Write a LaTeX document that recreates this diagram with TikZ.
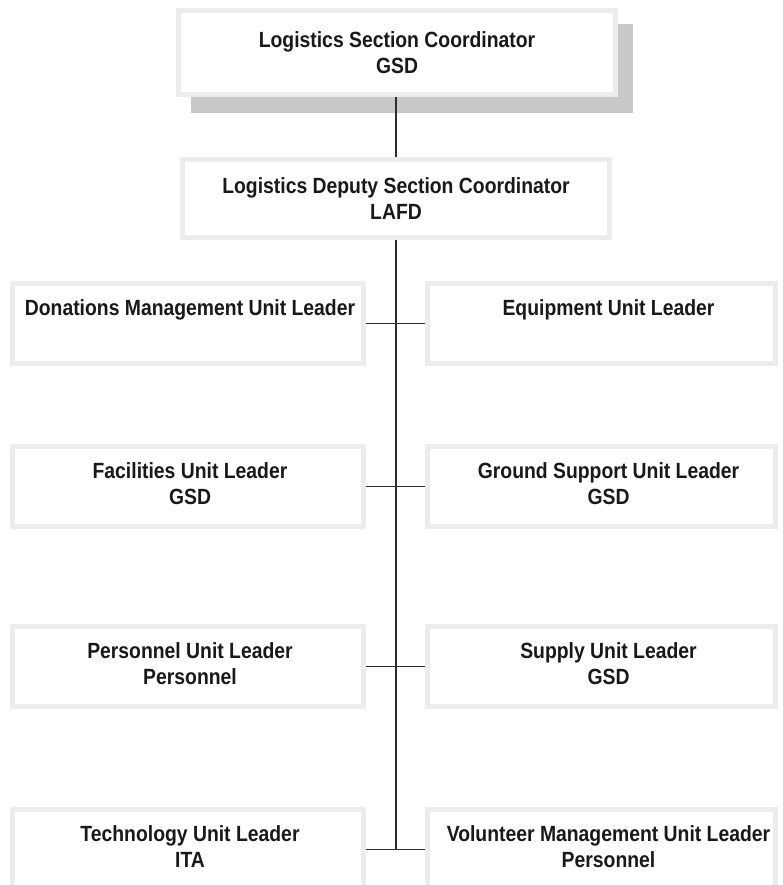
\documentclass[tikz,border=0pt]{standalone}
\usepackage{fontspec}
\setmainfont{Liberation Sans}[FakeStretch=0.88]
\definecolor{boxline}{RGB}{236,236,236}
\definecolor{shadowc}{RGB}{200,200,200}
\definecolor{conn}{RGB}{45,45,45}
\begin{document}
\begin{tikzpicture}[x=1pt,y=-1pt,
  box/.style={draw=boxline, line width=5pt, fill=white, inner sep=0pt},
  lbox/.style={box, minimum width=351pt, minimum height=80pt},
  rbox/.style={box, minimum width=348pt, minimum height=80pt},
  txt/.style={font=\bfseries\fontsize{22}{26}\selectfont, align=center, inner sep=0pt, text=black!90},
  ltxt/.style={txt, anchor=north, yshift=-18pt, xshift=2pt},
  rtxt/.style={txt, anchor=north, yshift=-18pt, xshift=7pt},
  conn/.style={draw=conn, line width=1.5pt}]
\useasboundingbox (0,0) rectangle (783,885);
\clip (0,0) rectangle (783,885);
\fill[white] (0,0) rectangle (783,885);
% top box with shadow
\fill[shadowc] (191,24) rectangle (633,113);
\node[box, minimum width=437pt, minimum height=84pt] (top) at (397,52.5) {};
\node[txt] (toptxt) at (top.center) {Logistics Section Coordinator\\GSD};
% deputy
\node[box, minimum width=427pt, minimum height=78pt] (dep) at (396,198.5) {};
\node[txt] (deptxt) at (dep.center) {Logistics Deputy Section Coordinator\\LAFD};
% rows
\node[lbox] (L1) at (188,323.5) {};
\node[rbox] (R1) at (601.5,323.5) {};
\node[lbox] (L2) at (188,486.5) {};
\node[rbox] (R2) at (601.5,486.5) {};
\node[lbox] (L3) at (188,666.5) {};
\node[rbox] (R3) at (601.5,666.5) {};
\node[lbox] (L4) at (188,849.5) {};
\node[rbox] (R4) at (601.5,849.5) {};
\node[ltxt] (L1t) at (L1.north) {Donations Management Unit Leader};
\node[rtxt] (R1t) at (R1.north) {Equipment Unit Leader};
\node[ltxt] (L2t) at (L2.north) {Facilities Unit Leader\\GSD};
\node[rtxt] (R2t) at (R2.north) {Ground Support Unit Leader\\GSD};
\node[ltxt] (L3t) at (L3.north) {Personnel Unit Leader\\Personnel};
\node[rtxt] (R3t) at (R3.north) {Supply Unit Leader\\GSD};
\node[ltxt] (L4t) at (L4.north) {Technology Unit Leader\\ITA};
\node[rtxt] (R4t) at (R4.north) {Volunteer Management Unit Leader\\Personnel};
% connectors
\draw[conn] (dep.north) -- (dep.north |- top.south);
\draw[conn] (dep.south) -- (dep.south |- L4.east);
\draw[conn] (L1.east) -- (R1.west);
\draw[conn] (L2.east) -- (R2.west);
\draw[conn] (L3.east) -- (R3.west);
\draw[conn] (L4.east) -- (R4.west);
\end{tikzpicture}
\end{document}
